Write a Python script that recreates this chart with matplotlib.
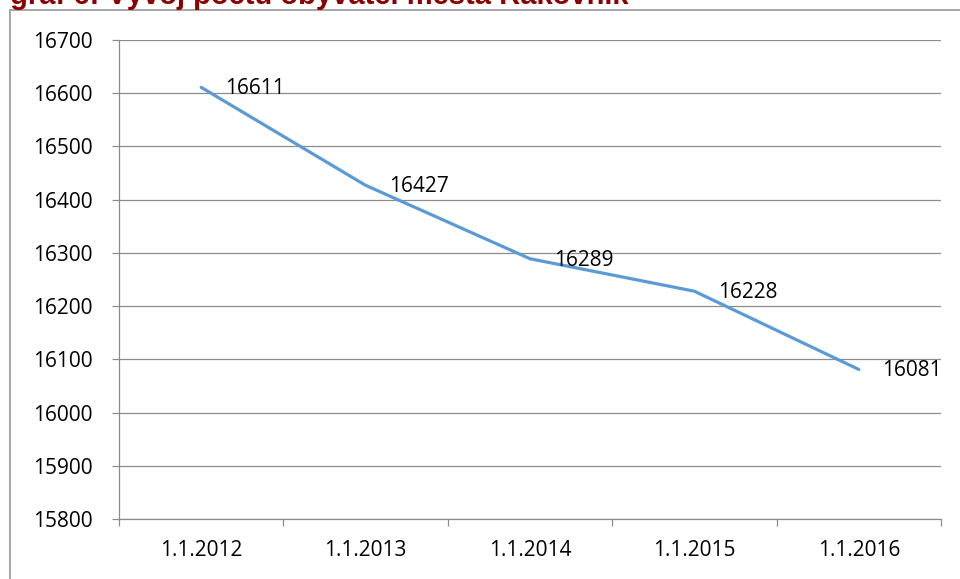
import matplotlib
matplotlib.use("Agg")
import matplotlib.pyplot as plt
from matplotlib.patches import Rectangle

dates = ["1.1.2012", "1.1.2013", "1.1.2014", "1.1.2015", "1.1.2016"]
population = [16611, 16427, 16289, 16228, 16081]
y_ticks = [15800, 15900, 16000, 16100, 16200, 16300, 16400, 16500, 16600, 16700]
title = "graf 6: Vývoj počtu obyvatel města Rakovník"

W, H = 960, 579
fig = plt.figure(figsize=(W / 100, H / 100), dpi=100)
plt.rcParams["font.family"] = ["Open Sans", "DejaVu Sans"]

# chart-area frame
fig.patches.append(Rectangle((10 / W, -0.05), 1.2, 1 - 10 / H + 0.05,
                             transform=fig.transFigure, fill=False,
                             edgecolor="#a6a6a6", linewidth=1.4))

# title, partly cut by the top edge
fig.text(10 / W, 1 - 4.5 / H, title, fontsize=21, fontweight="bold",
         color="#8b0000", family=["Liberation Sans", "DejaVu Sans"],
         ha="left", va="baseline")

ax = fig.add_axes([119 / W, 1 - 519 / H, (941 - 119) / W, (519 - 40) / H])
x = list(range(len(dates)))
ax.plot(x, population, color="#5b9bd5", linewidth=2.3, solid_capstyle="round")

for xi, v in zip(x, population):
    ax.annotate(str(v), (xi, v), xytext=(17, -1), textcoords="offset points",
                ha="left", va="center", fontsize=15, color="black")

ax.set_xlim(-0.5, len(dates) - 0.5)
ax.set_ylim(y_ticks[0], y_ticks[-1])
ax.set_yticks(y_ticks)
ax.set_yticklabels([str(t) for t in y_ticks])
ax.set_xticks(x)
ax.set_xticklabels(dates)
ax.set_xticks([i - 0.5 for i in range(len(dates) + 1)], minor=True)

ax.grid(axis="y", color="#8c8c8c", linewidth=0.9)
ax.set_axisbelow(True)
for s in ["top", "right"]:
    ax.spines[s].set_visible(False)
for s in ["left", "bottom"]:
    ax.spines[s].set_color("#8c8c8c")
    ax.spines[s].set_linewidth(0.9)

ax.tick_params(axis="y", length=5, width=0.9, color="#8c8c8c", pad=14,
               labelsize=15)
ax.tick_params(axis="x", which="major", length=0, pad=15, labelsize=15)
ax.tick_params(axis="x", which="minor", length=5, width=0.9, color="#8c8c8c")

fig.savefig("out.png", dpi=100)
